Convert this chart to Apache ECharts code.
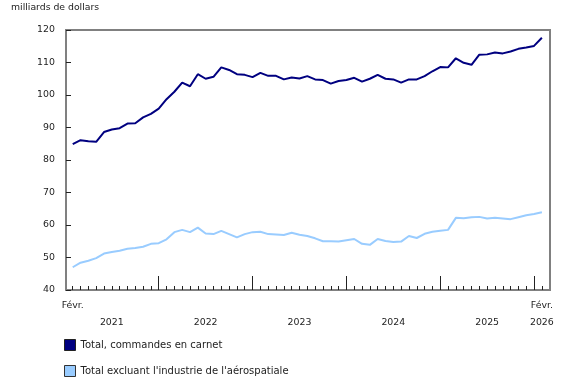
<!DOCTYPE html>
<html>
<head>
<meta charset="utf-8">
<script src="https://cdn.jsdelivr.net/npm/echarts@6/dist/echarts.min.js"></script>
<style>
html,body{margin:0;padding:0;background:#fff;}
#c{width:580px;height:385px;}
</style>
</head>
<body>
<div id="c"></div>
<script>
// Months Feb 2021 .. Feb 2026 (index 0..60)
const startYear = 2021, startMonth = 2, monthCount = 61;
const months = [];
for (let i = 0; i < monthCount; i++) {
  const m = (startMonth - 1 + i) % 12 + 1;
  const y = startYear + Math.floor((startMonth - 1 + i) / 12);
  months.push({ y: y, m: m });
}

const seriesNames = ["Total, commandes en carnet", "Total excluant l'industrie de l'aérospatiale"];

const totalBacklog = [84.9, 86.1, 85.8, 85.6, 88.6, 89.4, 89.8, 91.2, 91.3, 93.1, 94.2, 95.8,
  98.7, 101.0, 103.8, 102.7, 106.4, 105.0, 105.6, 108.5, 107.7, 106.4, 106.2, 105.5,
  106.8, 105.9, 105.9, 104.8, 105.4, 105.1, 105.8, 104.8, 104.6, 103.5, 104.3, 104.6,
  105.3, 104.1, 105.0, 106.2, 105.0, 104.8, 103.8, 104.8, 104.8, 105.8, 107.3, 108.6,
  108.5, 111.3, 109.9, 109.3, 112.4, 112.5, 113.1, 112.8, 113.4, 114.2, 114.6, 115.1, 117.6];

const excludingAero = [47.0, 48.4, 49.0, 49.8, 51.2, 51.7, 52.1, 52.7, 52.9, 53.3, 54.2, 54.4,
  55.6, 57.8, 58.5, 57.8, 59.2, 57.4, 57.2, 58.2, 57.2, 56.2, 57.2, 57.8,
  57.9, 57.2, 57.1, 56.9, 57.6, 57.0, 56.6, 55.9, 55.0, 55.0, 54.9, 55.3,
  55.7, 54.2, 53.9, 55.7, 55.1, 54.8, 54.9, 56.6, 56.0, 57.3, 57.9, 58.2,
  58.5, 62.2, 62.1, 62.4, 62.5, 62.0, 62.2, 62.0, 61.8, 62.4, 63.0, 63.4, 63.9];

const yTicks = { min: 40, max: 120, interval: 10 };
const monthLabel = "Févr.";
const yearLabels = ["2021", "2022", "2023", "2024", "2025", "2026"];

// tick positions derived from months
const idx = months.map((d, i) => i);
const januaryIdx = idx.filter(i => months[i].m === 1);
const febLabelIdx = [0, monthCount - 1];
const lastIdx = monthCount - 1;
const yearLabelIdx = yearLabels.map(ys => {
  const yr = +ys;
  if (yr === months[lastIdx].y) return lastIdx;
  const inYear = idx.filter(i => months[i].y === yr);
  const first = inYear[0], last = inYear[inYear.length - 1];
  const start = months[first].m === 1 ? first : first - 1;
  return (start + last + 1) / 2;
});
const yearLabelMap = {};
yearLabelIdx.forEach((v, k) => { yearLabelMap[v.toFixed(2)] = yearLabels[k]; });

const font = 'DejaVu Sans';
const fs = 9.4;
const xMin = -0.86, xMax = lastIdx + 1.04;

const chart = echarts.init(document.getElementById('c'), null, { renderer: 'canvas' });
chart.setOption({
  animation: false,
  backgroundColor: '#ffffff',
  textStyle: { fontFamily: font },
  title: {
    text: 'milliards de dollars', left: 11, top: 3, padding: 0,
    textStyle: { fontFamily: font, fontSize: 9.3, fontWeight: 'normal', color: '#222' }
  },
  grid: { left: 66, right: 30, top: 30, bottom: 95, show: true, borderColor: '#808080', borderWidth: 2, containLabel: false },
  legend: {
    orient: 'vertical', left: 64, top: 339, padding: 0, itemGap: 14, itemWidth: 11, itemHeight: 11,
    textStyle: { fontFamily: font, fontSize: 10, color: '#222' },
    data: [
      { name: seriesNames[0], icon: 'rect', itemStyle: { color: '#000080', borderColor: '#222', borderWidth: 1 } },
      { name: seriesNames[1], icon: 'rect', itemStyle: { color: '#99ccff', borderColor: '#333', borderWidth: 1 } }
    ]
  },
  xAxis: [
    {
      type: 'value', min: xMin, max: xMax, position: 'bottom',
      axisLine: { show: true, onZero: false, lineStyle: { color: '#808080', width: 2 } },
      axisTick: { show: true, inside: true, length: 4, customValues: idx, lineStyle: { color: '#222', width: 1 } },
      axisLabel: {
        show: true, customValues: febLabelIdx, margin: 11,
        formatter: () => monthLabel,
        fontFamily: font, fontSize: fs, color: '#222'
      },
      splitLine: { show: false }
    },
    {
      type: 'value', min: xMin, max: xMax, position: 'bottom',
      axisLine: { show: false, onZero: false },
      axisTick: { show: true, inside: true, length: 14, customValues: januaryIdx, lineStyle: { color: '#222', width: 1 } },
      axisLabel: {
        show: true, customValues: yearLabelIdx, margin: 28,
        formatter: (v) => yearLabelMap[(+v).toFixed(2)] || '',
        fontFamily: font, fontSize: fs, color: '#222'
      },
      splitLine: { show: false }
    }
  ],
  yAxis: {
    type: 'value', min: yTicks.min, max: yTicks.max, interval: yTicks.interval,
    axisLine: { show: true, onZero: false, lineStyle: { color: '#808080', width: 2 } },
    axisTick: { show: true, inside: true, length: 5, lineStyle: { color: '#222', width: 1 } },
    axisLabel: { fontFamily: font, fontSize: fs, color: '#222', margin: 11 },
    splitLine: { show: false }
  },
  series: [
    {
      name: seriesNames[0], type: 'line', xAxisIndex: 0, showSymbol: false, symbol: 'none',
      lineStyle: { color: '#000080', width: 2 }, itemStyle: { color: '#000080' },
      data: totalBacklog.map((v, i) => [i, v])
    },
    {
      name: seriesNames[1], type: 'line', xAxisIndex: 0, showSymbol: false, symbol: 'none',
      lineStyle: { color: '#99ccff', width: 2 }, itemStyle: { color: '#99ccff' },
      data: excludingAero.map((v, i) => [i, v])
    }
  ]
});
</script>
</body>
</html>
